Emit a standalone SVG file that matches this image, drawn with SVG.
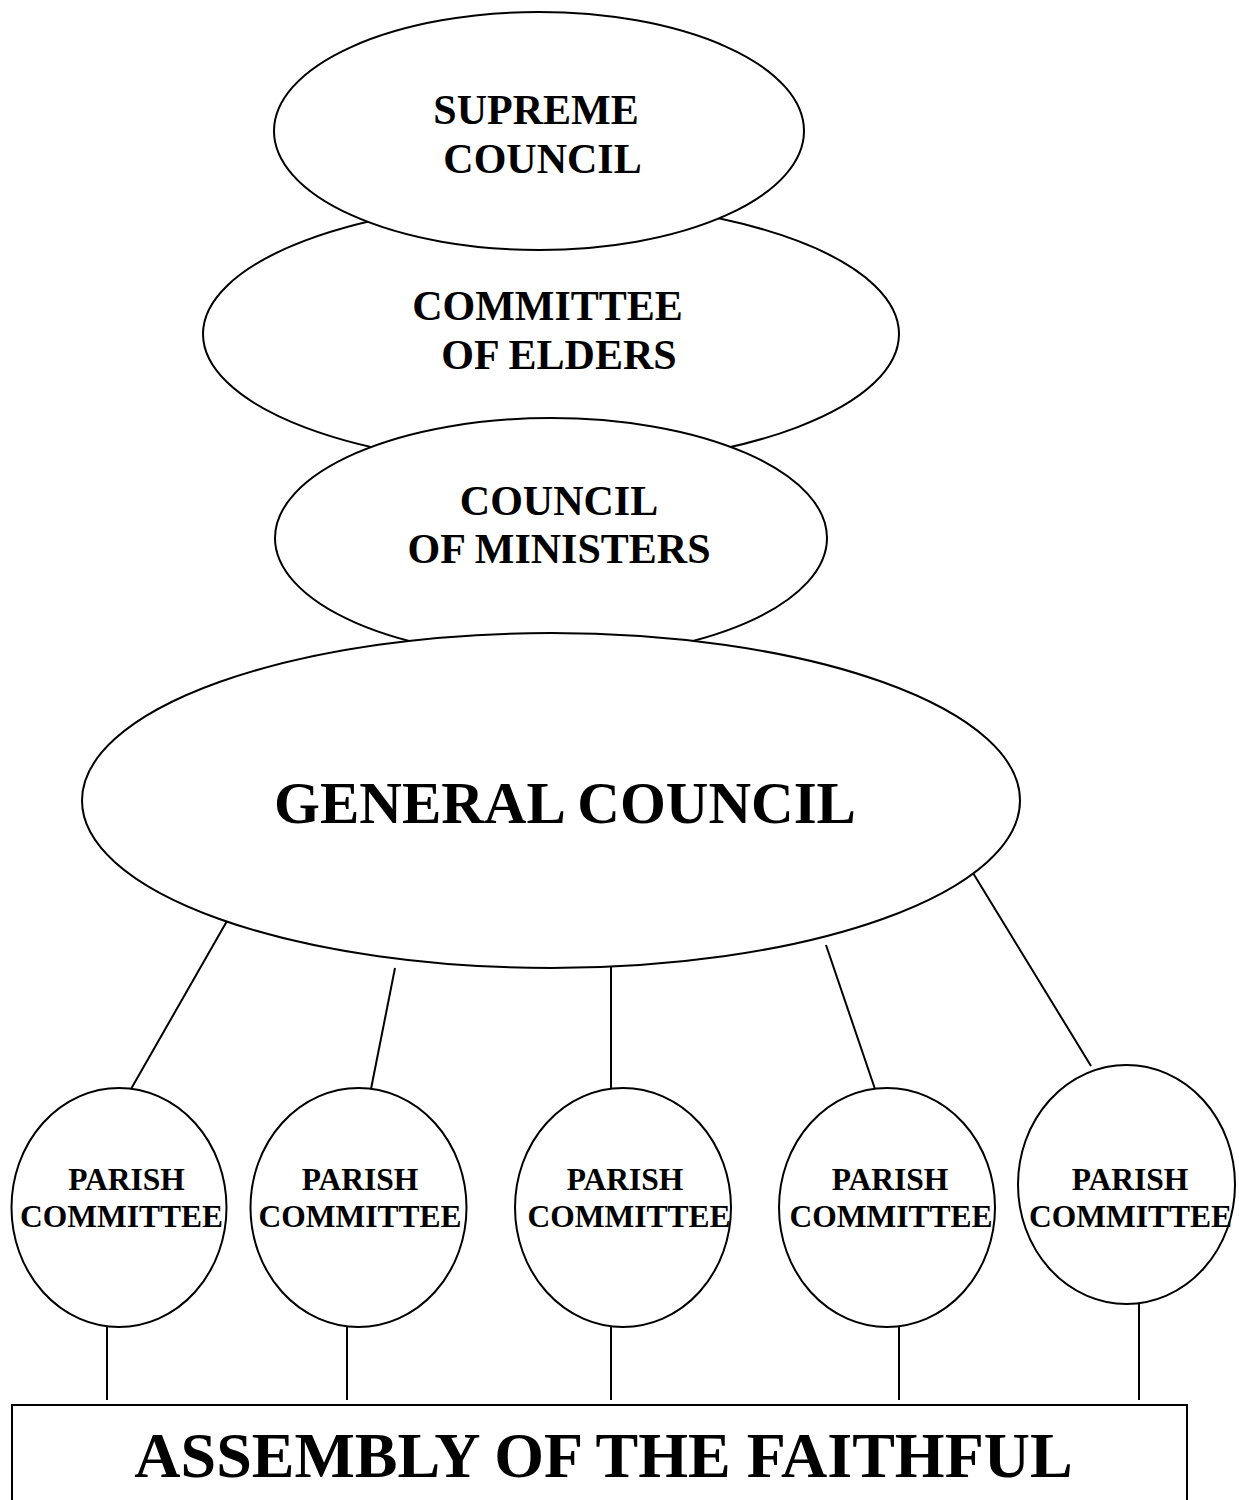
<svg xmlns="http://www.w3.org/2000/svg" width="1239" height="1500" viewBox="0 0 1239 1500">
  <style>
    .shape { fill: #ffffff; stroke: #000000; stroke-width: 2; }
    .link { stroke: #000000; stroke-width: 2; fill: none; }
    .lbl { font-family: "Liberation Serif", "Times New Roman", serif; font-weight: bold; fill: #000000; text-anchor: middle; }
    .big { font-size: 42px; }
    .huge { font-size: 59px; }
    .small { font-size: 31.5px; }
    .base { font-size: 64px; }
  </style>
  <rect x="0" y="0" width="1239" height="1500" fill="#ffffff"/>

  <!-- connectors -->
  <g id="connectors">
    <line class="link" x1="227" y1="921" x2="131" y2="1089"/>
    <line class="link" x1="395" y1="968" x2="371" y2="1089"/>
    <line class="link" x1="611" y1="967" x2="611" y2="1089"/>
    <line class="link" x1="826" y1="945" x2="875" y2="1089"/>
    <line class="link" x1="973" y1="873" x2="1091" y2="1066"/>
    <line class="link" x1="107" y1="1327" x2="107" y2="1400"/>
    <line class="link" x1="347" y1="1327" x2="347" y2="1400"/>
    <line class="link" x1="611" y1="1327" x2="611" y2="1400"/>
    <line class="link" x1="899" y1="1327" x2="899" y2="1400"/>
    <line class="link" x1="1139" y1="1304" x2="1139" y2="1400"/>
  </g>

  <g id="committee-of-elders">
    <ellipse class="shape" cx="551" cy="334" rx="348" ry="132"/>
    <text class="lbl big" x="547.5" y="320">COMMITTEE</text>
    <text class="lbl big" x="559" y="369">OF ELDERS</text>
  </g>

  <g id="supreme-council">
    <ellipse class="shape" cx="539" cy="131" rx="265" ry="119"/>
    <text class="lbl big" x="536" y="124">SUPREME</text>
    <text class="lbl big" x="542.5" y="173">COUNCIL</text>
  </g>

  <g id="council-of-ministers">
    <ellipse class="shape" cx="551" cy="538" rx="276" ry="120"/>
    <text class="lbl big" x="559" y="515">COUNCIL</text>
    <text class="lbl big" x="559" y="563">OF MINISTERS</text>
  </g>

  <g id="general-council">
    <ellipse class="shape" cx="551" cy="800.5" rx="469" ry="167.5"/>
    <text class="lbl huge" x="565" y="823">GENERAL COUNCIL</text>
  </g>

  <g id="parish-1">
    <ellipse class="shape" cx="119" cy="1207.5" rx="107.5" ry="119.5"/>
    <text class="lbl small" x="126.5" y="1190">PARISH</text>
    <text class="lbl small" x="121.5" y="1227">COMMITTEE</text>
  </g>

  <g id="parish-2">
    <ellipse class="shape" cx="358.5" cy="1207.5" rx="108" ry="119.5"/>
    <text class="lbl small" x="360" y="1190">PARISH</text>
    <text class="lbl small" x="360" y="1227">COMMITTEE</text>
  </g>

  <g id="parish-3">
    <ellipse class="shape" cx="623" cy="1207.5" rx="108" ry="119.5"/>
    <text class="lbl small" x="625" y="1190">PARISH</text>
    <text class="lbl small" x="629" y="1227">COMMITTEE</text>
  </g>

  <g id="parish-4">
    <ellipse class="shape" cx="887" cy="1207.5" rx="108" ry="119.5"/>
    <text class="lbl small" x="890" y="1190">PARISH</text>
    <text class="lbl small" x="891" y="1227">COMMITTEE</text>
  </g>

  <g id="parish-5">
    <ellipse class="shape" cx="1126.5" cy="1184.5" rx="108.5" ry="119.5"/>
    <text class="lbl small" x="1130" y="1190">PARISH</text>
    <text class="lbl small" x="1130.5" y="1227">COMMITTEE</text>
  </g>

  <g id="assembly-of-the-faithful">
    <rect class="shape" x="12" y="1405" width="1175" height="120"/>
    <text class="lbl base" x="603.5" y="1477">ASSEMBLY OF THE FAITHFUL</text>
  </g>
</svg>
